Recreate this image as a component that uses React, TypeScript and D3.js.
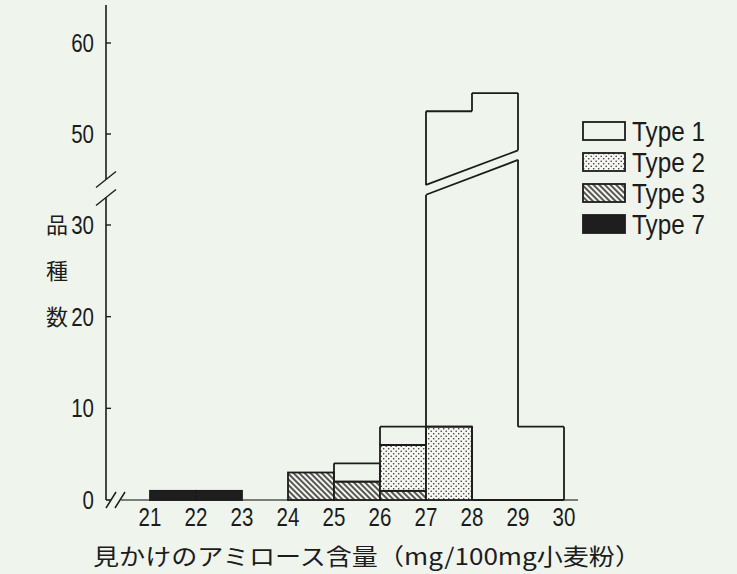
import React from "react";
import * as d3 from "d3";

// histogram bins (left edges), counts per type
const bins = [21, 22, 23, 24, 25, 26, 27, 28, 29];
const type7 = [1, 1, 0, 0, 0, 0, 0, 0, 0];
const type3 = [0, 0, 0, 3, 2, 1, 0, 0, 0];
const type2 = [0, 0, 0, 0, 0, 5, 8, 0, 0];
const type1 = [0, 0, 0, 0, 2, 2, 44.5, 54.5, 8];

const xTicks = [21, 22, 23, 24, 25, 26, 27, 28, 29, 30];
const yTicks = [0, 10, 20, 30, 50, 60];
const legendItems = ["Type 1", "Type 2", "Type 3", "Type 7"];
const yTitle = ["品", "種", "数"];
const xTitle = "見かけのアミロース含量（mg/100mg小麦粉）";

// where the axis / tall bar are broken
const axisBreak = [33, 45];
const barBreakLow = [33.3, 37.1];
const barBreakHigh = [44.4, 48.2];

const W = 737;
const H = 574;
const BG = "#eff5ec";
const INK = "#1c1c1c";

const x = d3.scaleLinear().domain([21, 30]).range([150, 564]);
const yLow = d3.scaleLinear().domain([0, 30]).range([500, 225]);
const yHigh = d3.scaleLinear().domain([50, 60]).range([134, 43]);
const y = (v: number) => (v < 42 ? yLow(v) : yHigh(v));
const axisX = 106;

const rows = bins.map((b, i) => ({
  bin: b,
  t7: type7[i],
  t3: type3[i],
  t2: type2[i],
  t1: type1[i],
}));
const stack = d3.stack<any>().keys(["t7", "t3", "t2", "t1"])(rows);

const fills: Record<string, string> = {
  t7: "#1e1e1e",
  t3: "url(#hatch)",
  t2: "url(#dots)",
};

function minus(a: number[], b: number[] | null) {
  if (!b || b[1] <= b[0]) return [a];
  const out: number[][] = [];
  if (Math.min(a[1], b[0]) > a[0]) out.push([a[0], Math.min(a[1], b[0])]);
  if (Math.max(a[0], b[1]) < a[1]) out.push([Math.max(a[0], b[1]), a[1]]);
  return out;
}

// outline of type 1 as one merged shape
function type1Path() {
  const s = stack[3];
  const cell = (i: number) =>
    i >= 0 && i < s.length && s[i][1] > s[i][0] ? [s[i][0], s[i][1]] : null;
  const p = d3.path();
  s.forEach((d, i) => {
    const c = cell(i);
    if (!c) return;
    const x0 = x(bins[i]);
    const x1 = x(bins[i] + 1);
    p.moveTo(x0, y(c[1]));
    p.lineTo(x1, y(c[1]));
    p.moveTo(x0, y(c[0]));
    p.lineTo(x1, y(c[0]));
    minus(c, cell(i - 1)).forEach((seg) => {
      p.moveTo(x0, y(seg[0]));
      p.lineTo(x0, y(seg[1]));
    });
    minus(c, cell(i + 1)).forEach((seg) => {
      p.moveTo(x1, y(seg[0]));
      p.lineTo(x1, y(seg[1]));
    });
  });
  return p.toString();
}

function lineAt(a: [number, number], b: [number, number], px: number) {
  return a[1] + ((b[1] - a[1]) * (px - a[0])) / (b[0] - a[0]);
}

export default function App() {
  const lowA: [number, number] = [x(27), yLow(barBreakLow[0])];
  const lowB: [number, number] = [x(29), yLow(barBreakLow[1])];
  const hiA: [number, number] = [x(27), yHigh(barBreakHigh[0])];
  const hiB: [number, number] = [x(29), yHigh(barBreakHigh[1])];
  const t1 = type1Path();
  const tickFont = { fontFamily: "Liberation Sans, Arial, sans-serif", fontSize: 25, fill: INK };

  return (
    <svg width={W} height={H} style={{ position: "absolute", left: 0, top: 0 }}>
      <defs>
        <pattern id="dots" width="5" height="5" patternUnits="userSpaceOnUse">
          <rect width="5" height="5" fill="#f7f8f3" />
          <circle cx="1.2" cy="1.2" r="0.8" fill="#333" />
          <circle cx="3.7" cy="3.7" r="0.8" fill="#333" />
        </pattern>
        <pattern id="hatch" width="4" height="4" patternUnits="userSpaceOnUse" patternTransform="rotate(-45)">
          <rect width="4" height="4" fill="#f4f6f0" />
          <line x1="1" y1="0" x2="1" y2="4" stroke="#222" strokeWidth="1.5" />
        </pattern>
        <clipPath id="clipLow">
          <polygon points={`0,${lineAt(lowA, lowB, 0)} ${W},${lineAt(lowA, lowB, W)} ${W},${H} 0,${H}`} />
        </clipPath>
        <clipPath id="clipHigh">
          <polygon points={`0,0 ${W},0 ${W},${lineAt(hiA, hiB, W)} 0,${lineAt(hiA, hiB, 0)}`} />
        </clipPath>
      </defs>
      <rect width={W} height={H} fill={BG} />

      {/* baseline with x break */}
      <line x1={axisX} x2={111} y1={y(0)} y2={y(0)} stroke={INK} strokeWidth={1.6} />
      <line x1={121} x2={578} y1={y(0)} y2={y(0)} stroke="#555" strokeWidth={1.4} />
      <line x1={106} x2={116} y1={508} y2={492} stroke={INK} strokeWidth={1.5} />
      <line x1={115} x2={125} y1={508} y2={492} stroke={INK} strokeWidth={1.5} />

      {/* stacked cells (type 7, 3, 2) */}
      {stack.slice(0, 3).map((layer) =>
        layer.map((d, i) =>
          d[1] > d[0] ? (
            <rect
              key={layer.key + i}
              x={x(bins[i])}
              y={y(d[1])}
              width={x(bins[i] + 1) - x(bins[i])}
              height={y(d[0]) - y(d[1])}
              fill={fills[layer.key]}
              stroke={INK}
              strokeWidth={1.8}
            />
          ) : null
        )
      )}

      {/* type 1 outline, broken */}
      <path d={t1} clipPath="url(#clipLow)" fill="none" stroke={INK} strokeWidth={1.8} />
      <path d={t1} clipPath="url(#clipHigh)" fill="none" stroke={INK} strokeWidth={1.8} />
      <line x1={lowA[0]} y1={lowA[1]} x2={lowB[0]} y2={lowB[1]} stroke={INK} strokeWidth={1.8} />
      <line x1={hiA[0]} y1={hiA[1]} x2={hiB[0]} y2={hiB[1]} stroke={INK} strokeWidth={1.8} />

      {/* y axis with break */}
      <line x1={axisX} x2={axisX} y1={y(0)} y2={yLow(axisBreak[0])} stroke={INK} strokeWidth={1.6} />
      <line x1={axisX} x2={axisX} y1={yHigh(axisBreak[1])} y2={5} stroke={INK} strokeWidth={1.6} />
      <line x1={axisX - 10} x2={axisX + 10} y1={yLow(axisBreak[0]) + 8} y2={yLow(axisBreak[0]) - 8} stroke={INK} strokeWidth={1.5} />
      <line x1={axisX - 10} x2={axisX + 10} y1={yHigh(axisBreak[1]) + 8} y2={yHigh(axisBreak[1]) - 8} stroke={INK} strokeWidth={1.5} />
      {yTicks.map((t) => (
        <g key={t}>
          {t > 0 && <line x1={axisX} x2={axisX + 5} y1={y(t)} y2={y(t)} stroke={INK} strokeWidth={1.4} />}
          <text
            transform={`translate(94,${y(t) + 9}) scale(0.82,1)`}
            textAnchor="end"
            {...tickFont}
          >
            {t}
          </text>
        </g>
      ))}
      {xTicks.map((t) => (
        <text key={t} transform={`translate(${x(t)},526) scale(0.82,1)`} textAnchor="middle" {...tickFont}>
          {t}
        </text>
      ))}

      {/* axis titles */}
      {yTitle.map((c, i) => (
        <text
          key={c}
          x={57}
          y={yLow(30) + 8 + i * 46}
          textAnchor="middle"
          fontFamily="Noto Sans CJK JP"
          fontSize={22}
          fill={INK}
        >
          {c}
        </text>
      ))}
      <text
        x={93}
        y={565}
        textLength={548}
        lengthAdjust="spacingAndGlyphs"
        fontFamily="Noto Sans CJK JP"
        fontSize={23}
        fill={INK}
      >
        {xTitle}
      </text>

      {/* legend */}
      {legendItems.map((name, i) => {
        const ly = 122 + i * 31;
        const key = ["t1", "t2", "t3", "t7"][i];
        return (
          <g key={name}>
            <rect
              x={583}
              y={ly}
              width={42}
              height={18}
              fill={key === "t1" ? "none" : fills[key]}
              stroke={INK}
              strokeWidth={1.8}
            />
            <text
              transform={`translate(632,${ly + 19}) scale(0.9,1)`}
              fontFamily="Liberation Sans, Arial, sans-serif"
              fontSize={27}
              fill={INK}
            >
              {name}
            </text>
          </g>
        );
      })}
    </svg>
  );
}
